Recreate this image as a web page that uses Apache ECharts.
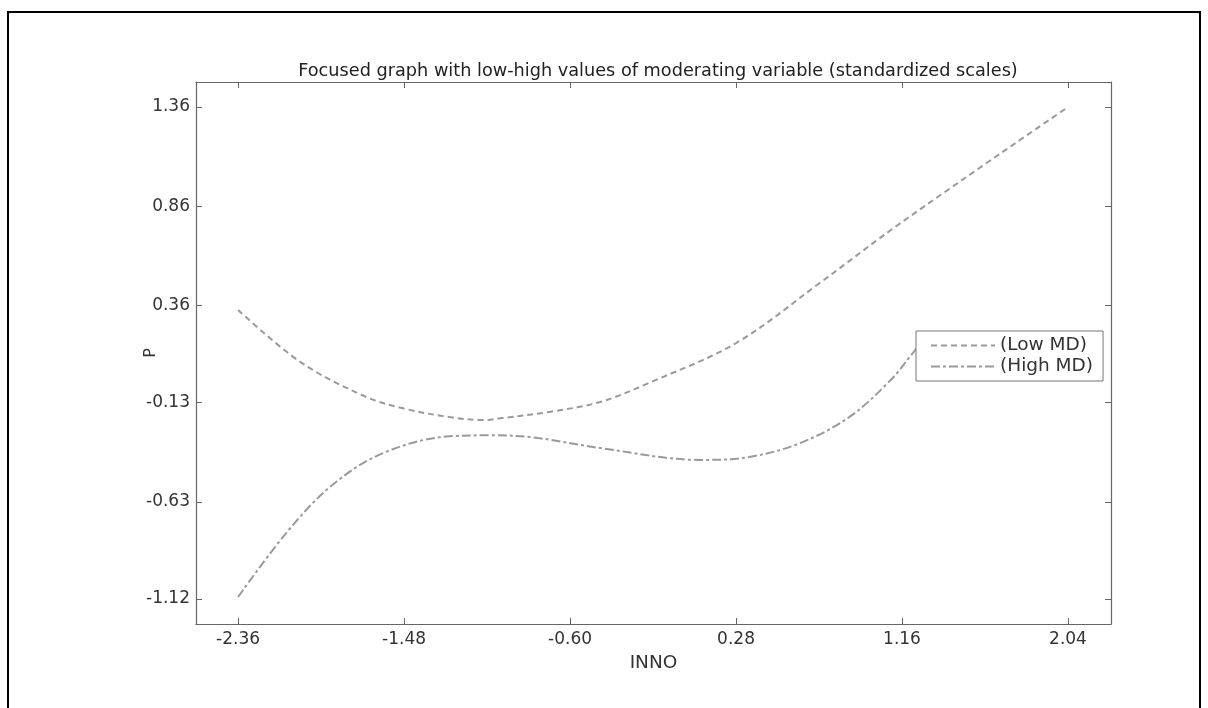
<!DOCTYPE html>
<html>
<head>
<meta charset="utf-8">
<script src="https://cdn.jsdelivr.net/npm/echarts@6/dist/echarts.min.js"></script>
<style>html,body{margin:0;padding:0;background:#fff;}#c{width:1208px;height:708px;}</style>
</head>
<body>
<div id="c"></div>
<script>
// ---- data ----
var titleText = 'Focused graph with low-high values of moderating variable (standardized scales)';
var xTicks = [-2.36, -1.48, -0.60, 0.28, 1.16, 2.04];
var yTicks = [-1.12, -0.63, -0.13, 0.36, 0.86, 1.36];
var seriesNames = ['(Low MD)', '(High MD)'];
var xLow = [-2.36, -2.03, -1.68, -1.48, -1.24, -1.06, -0.96, -0.71, -0.44, -0.18, 0.28, 0.72, 1.16, 2.04];
var yLow = [0.337, 0.075, -0.102, -0.160, -0.203, -0.218, -0.208, -0.177, -0.127, -0.030, 0.170, 0.470, 0.78, 1.36];
var xHigh = [-2.36, -2.10, -1.86, -1.59, -1.24, -1.02, -0.80, -0.44, 0.09, 0.35, 0.62, 0.88, 1.10, 1.23, 1.28];
var yHigh = [-1.11, -0.782, -0.545, -0.384, -0.300, -0.295, -0.305, -0.359, -0.419, -0.404, -0.334, -0.203, -0.016, 0.135, 0.19];

function pairs(xs, ys) { return xs.map(function (x, i) { return [x, ys[i]]; }); }

var FONT = 'DejaVu Sans';
var AX = '#666';
var chart = echarts.init(document.getElementById('c'), null, {renderer: 'canvas'});
var xMin = -2.583, xMax = 2.268, yMin = -1.246, yMax = 1.486;

function tickAxis(extra) {
  var base = {
    type: 'value',
    axisLine: {show: true, onZero: false, lineStyle: {color: AX, width: 1.2}},
    axisTick: {show: true, inside: true, length: 6, lineStyle: {color: AX}},
    splitLine: {show: false}
  };
  return Object.assign(base, extra);
}

chart.setOption({
  animation: false,
  backgroundColor: '#fff',
  title: {
    text: titleText, left: 653, top: 57, textAlign: 'center',
    textStyle: {fontFamily: FONT, fontSize: 17.7, fontWeight: 'normal', color: '#222'}
  },
  graphic: [{
    type: 'rect', shape: {x: 8, y: 12, width: 1192, height: 720},
    style: {stroke: '#000', fill: 'none', lineWidth: 2}, silent: true
  }],
  grid: {left: 196, right: 97, top: 82, bottom: 84},
  legend: {
    orient: 'vertical', left: 916, top: 331,
    data: seriesNames,
    backgroundColor: '#fff', borderColor: '#777', borderWidth: 1, borderRadius: 0,
    padding: [5, 10, 5, 14], itemWidth: 64, itemHeight: 14, itemGap: 2,
    itemStyle: {opacity: 0},
    textStyle: {fontFamily: FONT, fontSize: 18.5, color: '#333'}
  },
  xAxis: [
    tickAxis({
      min: xMin, max: xMax, position: 'bottom',
      name: 'INNO', nameLocation: 'middle', nameGap: 30, nameMoveOverlap: false,
      nameTextStyle: {fontFamily: FONT, fontSize: 18.5, color: '#333'},
      axisTick: {show: true, inside: true, length: 6, lineStyle: {color: AX}, customValues: xTicks},
      axisLabel: {show: true, margin: 7, customValues: xTicks, fontFamily: FONT, fontSize: 17, color: '#333',
        formatter: function (v) { return v.toFixed(2); }}
    }),
    tickAxis({
      min: xMin, max: xMax, position: 'top',
      axisTick: {show: true, inside: true, length: 6, lineStyle: {color: AX}, customValues: xTicks},
      axisLabel: {show: false}
    })
  ],
  yAxis: [
    tickAxis({
      min: yMin, max: yMax, position: 'left',
      name: 'P', nameLocation: 'middle', nameGap: 37, nameMoveOverlap: false,
      nameTextStyle: {fontFamily: FONT, fontSize: 16, color: '#333'},
      axisTick: {show: true, inside: true, length: 6, lineStyle: {color: AX}, customValues: yTicks},
      axisLabel: {show: true, margin: 6, customValues: yTicks, fontFamily: FONT, fontSize: 17, color: '#333',
        formatter: function (v) { return v.toFixed(2); }}
    }),
    tickAxis({
      min: yMin, max: yMax, position: 'right',
      axisTick: {show: true, inside: true, length: 6, lineStyle: {color: AX}, customValues: yTicks},
      axisLabel: {show: false}
    })
  ],
  series: [{
    name: seriesNames[0], type: 'line', xAxisIndex: 0, yAxisIndex: 0,
    data: pairs(xLow, yLow), smooth: 0.35, symbol: 'none',
    itemStyle: {color: '#9a9a9a'},
    lineStyle: {color: '#9a9a9a', width: 2, type: [6, 4]}
  }, {
    name: seriesNames[1], type: 'line', xAxisIndex: 0, yAxisIndex: 0,
    data: pairs(xHigh, yHigh), smooth: 0.35, symbol: 'none',
    itemStyle: {color: '#9a9a9a'},
    lineStyle: {color: '#9a9a9a', width: 2, type: [9, 3, 3, 3]}
  }]
});
</script>
</body>
</html>
